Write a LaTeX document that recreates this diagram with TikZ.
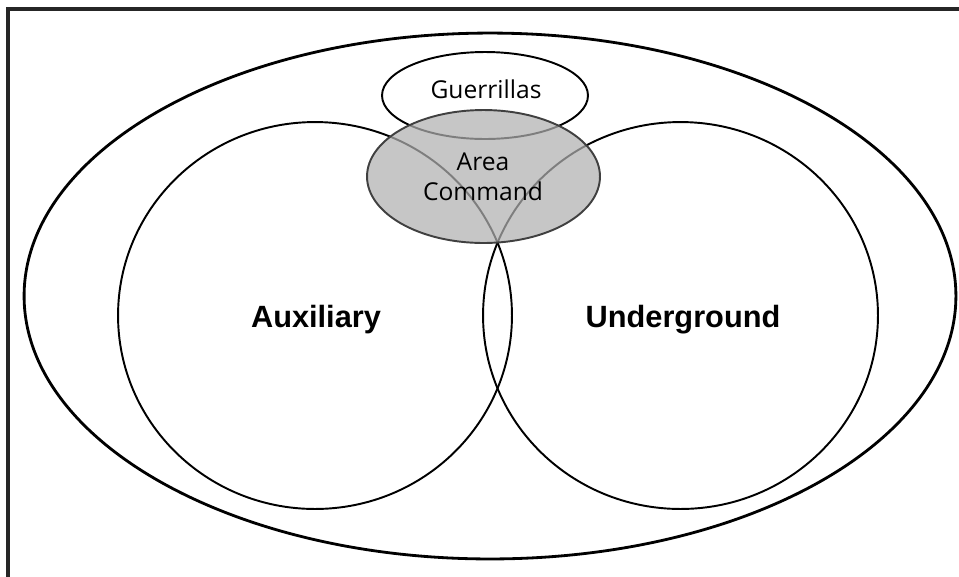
\documentclass[tikz,border=0pt]{standalone}
\usepackage{fontspec}
\setmainfont{Liberation Sans}
\newfontfamily\labelfont{Open Sans}
\usetikzlibrary{shapes.geometric}
\begin{document}
\begin{tikzpicture}[x=0.02cm,y=-0.02cm,
  set/.style={ellipse, draw, line width=1.1pt, inner sep=0pt, outer sep=0pt},
  bigtext/.style={font=\bfseries\fontsize{17.5}{20}\selectfont},
  smalltext/.style={font=\labelfont\fontsize{14}{17}\selectfont, align=center}]
\useasboundingbox (0,0) rectangle (959,576);
\clip (0,0) rectangle (959,576);
\draw[line width=1.8pt, black!85] (8,9) rectangle (1000,620);
% sets
\node[set, line width=1.6pt, minimum width=18.64cm, minimum height=10.52cm] (world) at (490,296){};
\node[set, minimum width=7.88cm, minimum height=7.74cm] (aux) at (315,315.5){};
\node[set, minimum width=7.9cm, minimum height=7.74cm] (und) at (680.5,315.5){};
\node[set, minimum width=4.12cm, minimum height=1.74cm] (guer) at (485,95.5){};
\node[set, draw=black!75, fill=black!31, fill opacity=0.72, draw opacity=1,
  minimum width=4.66cm, minimum height=2.66cm] (area) at (483.5,176.5){};
% labels
\node[bigtext] (auxlbl) at (316,320){Auxiliary};
\node[bigtext] (undlbl) at (683,320){Underground};
\node[smalltext] (guerlbl) at (486,89){Guerrillas};
\node[smalltext] (arealbl) at (483,177){Area\\Command};
\end{tikzpicture}
\end{document}
